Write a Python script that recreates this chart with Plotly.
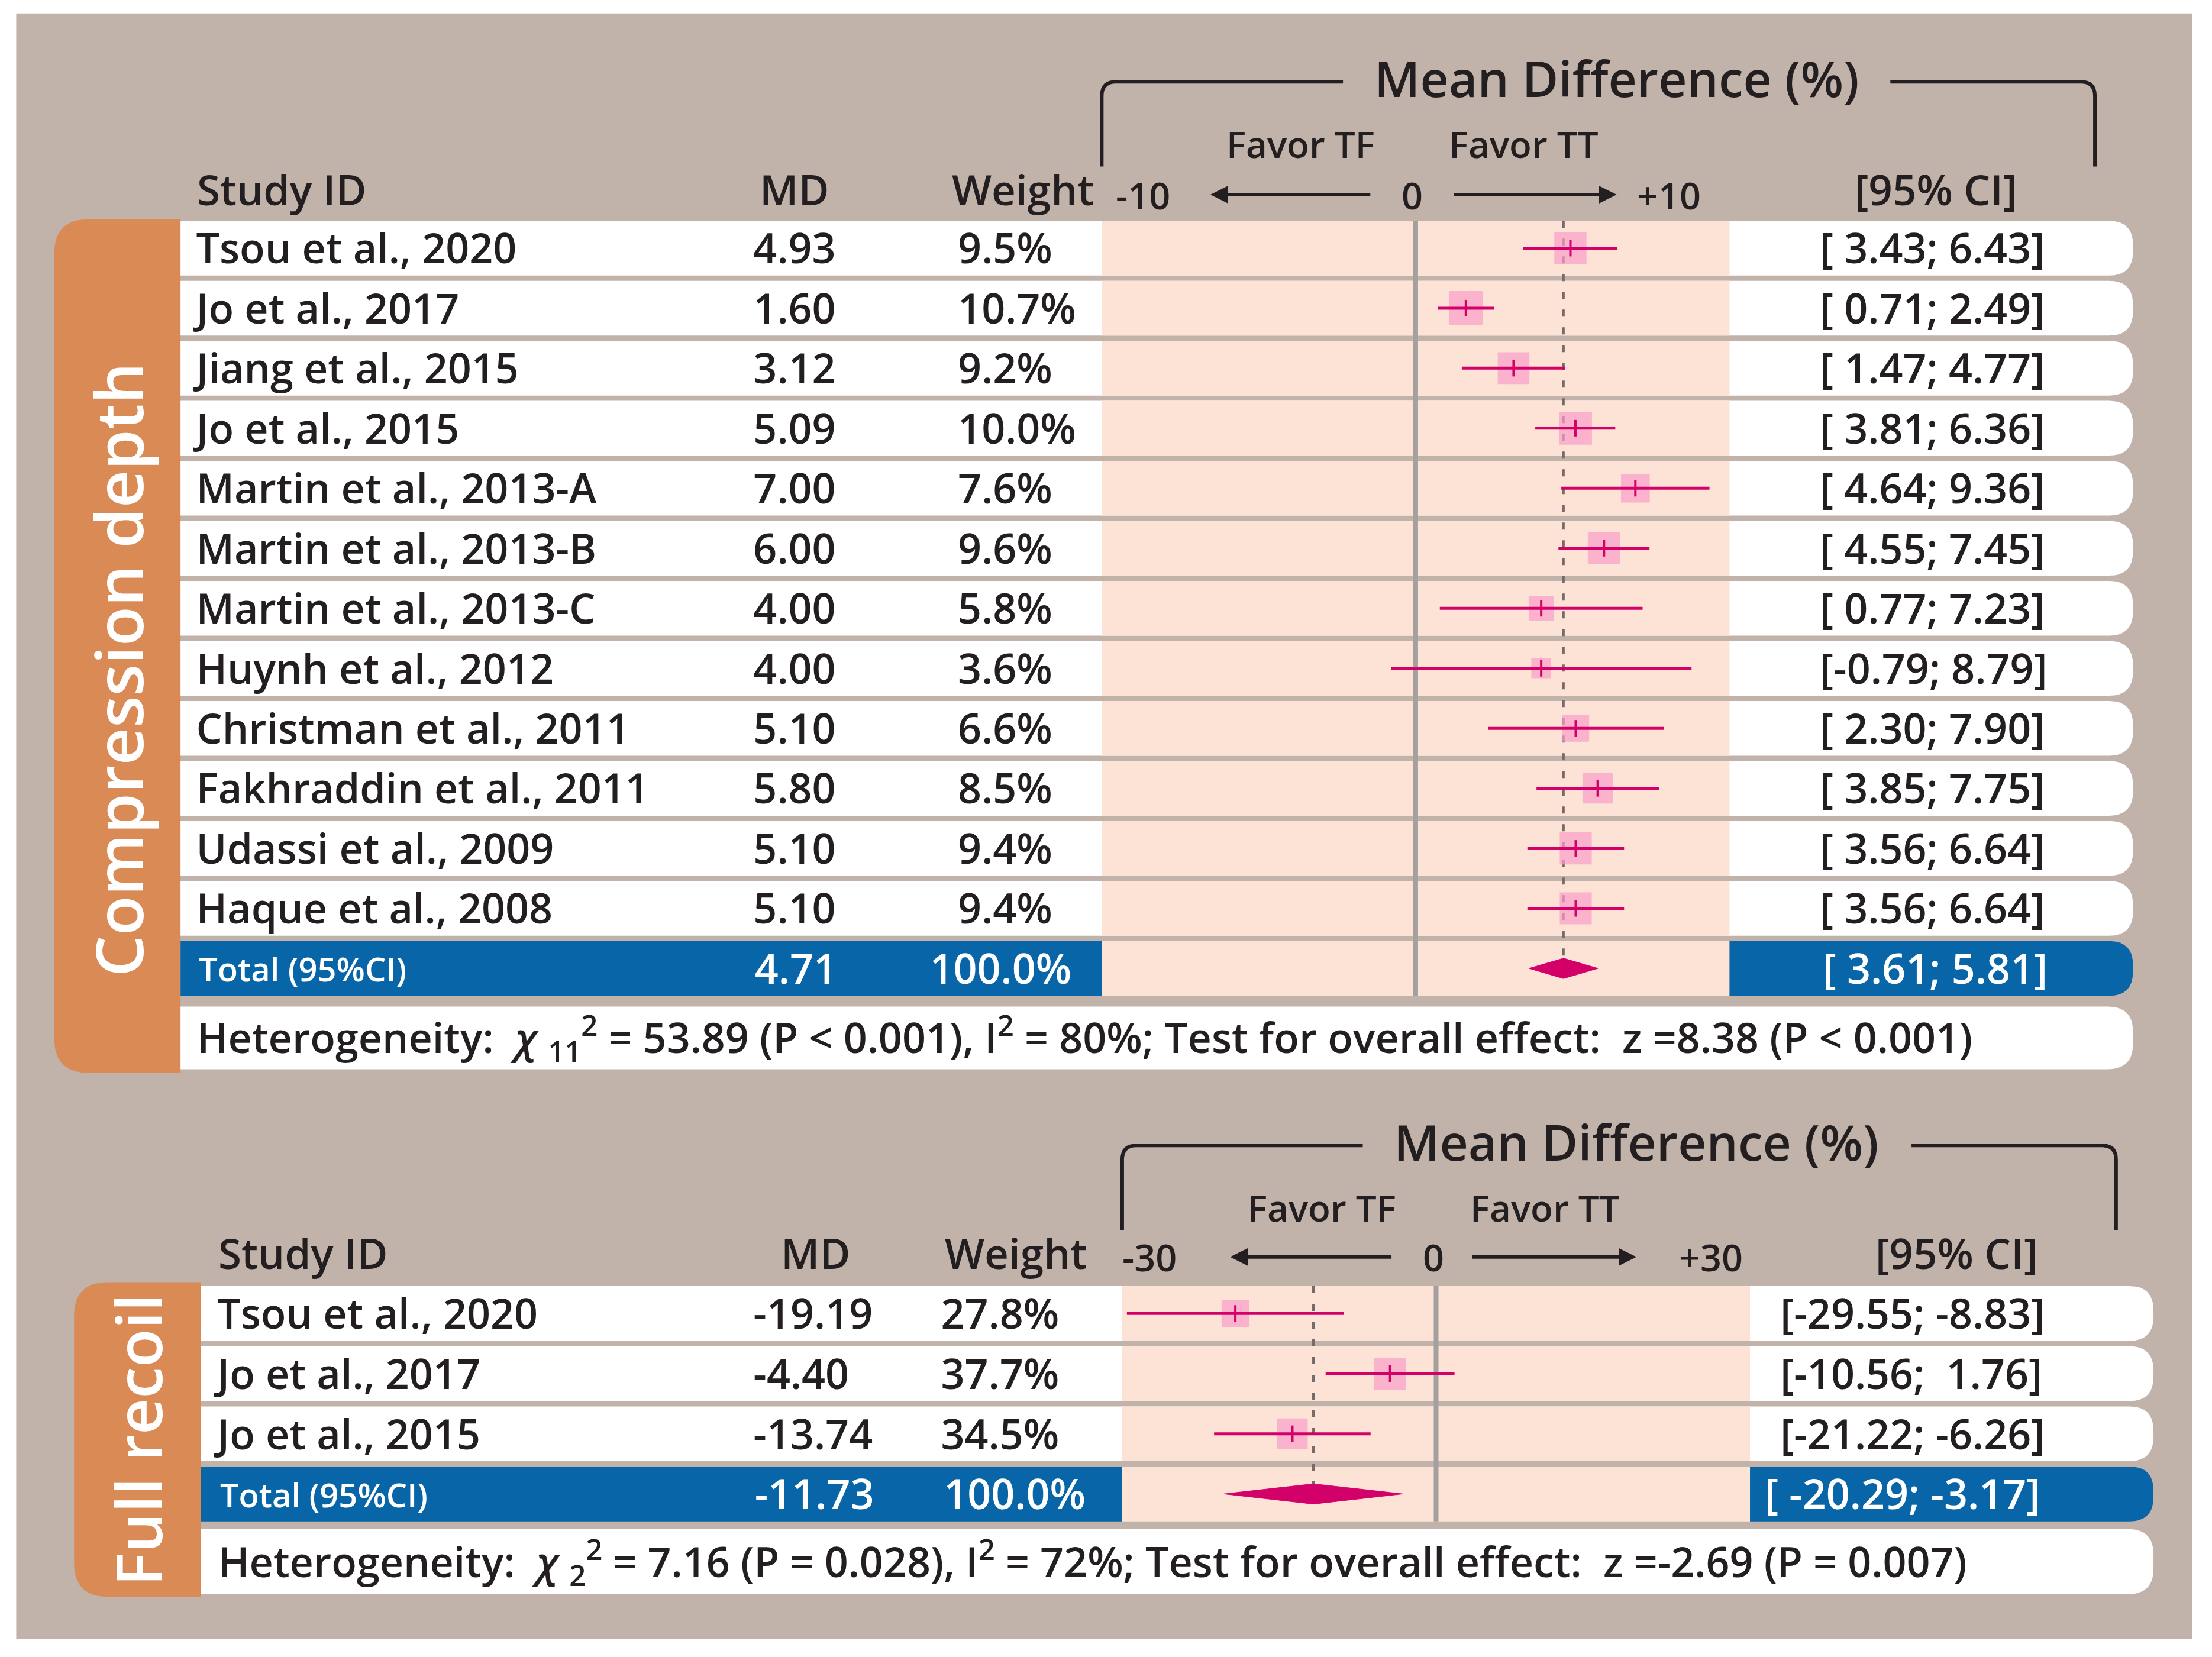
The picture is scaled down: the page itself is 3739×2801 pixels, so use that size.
import numpy as np
import plotly.graph_objects as go

# ---- compression depth panel ----
cd_study = ["Tsou et al., 2020", "Jo et al., 2017", "Jiang et al., 2015", "Jo et al., 2015",
            "Martin et al., 2013-A", "Martin et al., 2013-B", "Martin et al., 2013-C",
            "Huynh et al., 2012", "Christman et al., 2011", "Fakhraddin et al., 2011",
            "Udassi et al., 2009", "Haque et al., 2008"]
cd_md = [4.93, 1.60, 3.12, 5.09, 7.00, 6.00, 4.00, 4.00, 5.10, 5.80, 5.10, 5.10]
cd_lo = [3.43, 0.71, 1.47, 3.81, 4.64, 4.55, 0.77, -0.79, 2.30, 3.85, 3.56, 3.56]
cd_hi = [6.43, 2.49, 4.77, 6.36, 9.36, 7.45, 7.23, 8.79, 7.90, 7.75, 6.64, 6.64]
cd_weight = [9.5, 10.7, 9.2, 10.0, 7.6, 9.6, 5.8, 3.6, 6.6, 8.5, 9.4, 9.4]
cd_total = [4.71, 3.61, 5.81]
cd_ticks = ["-10", "0", "+10"]
cd_het = ["11", "53.89", "&lt; 0.001", "80%", "8.38", "&lt; 0.001"]

# ---- full recoil panel ----
fr_study = ["Tsou et al., 2020", "Jo et al., 2017", "Jo et al., 2015"]
fr_md = [-19.19, -4.40, -13.74]
fr_lo = [-29.55, -10.56, -21.22]
fr_hi = [-8.83, 1.76, -6.26]
fr_weight = [27.8, 37.7, 34.5]
fr_total = [-11.73, -20.29, -3.17]
fr_ticks = ["-30", "0", "+30"]
fr_het = ["2", "7.16", "= 0.028", "72%", "-2.69", "= 0.007"]

W, H = 3739, 2801
S = W / 1568          # pixels per layout unit
BODY = 8              # default page margin around the plot div
OFF = BODY / S
PW, PH = W - 2 * BODY, H - 2 * BODY
XSPAN, YSPAN = PW / S, PH / S

INK = "#231F20"
BROWN = "#C2B3AA"
PEACH = "#FDE3D6"
ORANGE = "#DA8A55"
BLUE = "#0866A8"
MAG = "#D4006A"
PINK = "#FA9DC8"
FONT = "Open Sans"
FW = 540
NB = "\u00a0"
TDY = 3.5             # text traces sit a bit high; nudge down

shapes, annos, traces = [], [], []


def fx(u):
    return (u - OFF) / XSPAN


def rpath(x0, y0, x1, y1, rl=0, rr=0):
    p = f"M{x0+rl},{y0} L{x1-rr},{y0} "
    if rr:
        p += f"Q{x1},{y0} {x1},{y0+rr} "
    p += f"L{x1},{y1-rr} "
    if rr:
        p += f"Q{x1},{y1} {x1-rr},{y1} "
    p += f"L{x0+rl},{y1} "
    if rl:
        p += f"Q{x0},{y1} {x0},{y1-rl} "
    p += f"L{x0},{y0+rl} "
    if rl:
        p += f"Q{x0},{y0} {x0+rl},{y0} "
    return p + "Z"


def box(x0, y0, x1, y1, color, rl=0, rr=0):
    shapes.append(dict(type="path", path=rpath(x0, y0, x1, y1, rl, rr), xref="x", yref="y",
                       fillcolor=color, line=dict(width=0), layer="below"))


def txt(x, y, s, size, color=INK, anchor="left", angle=0):
    annos.append(dict(x=x, y=y, xref="x", yref="y", text=s, showarrow=False, xanchor=anchor,
                      yanchor="middle", textangle=angle,
                      font=dict(family=FONT, size=size, color=color, weight=FW)))


def col(x, ys, vals, size, color=INK):
    traces.append(go.Scatter(x=[x] * len(ys), y=[y + TDY for y in ys], mode="text", text=vals,
                             textposition="middle right", hoverinfo="skip",
                             textfont=dict(family=FONT, size=size, color=color, weight=FW)))


def panel(study, md, lo, hi, wt, total, ticks, het, label, g):
    n = len(study)
    L, F0, F1, R = g["left"], g["f0"], g["f1"], g["right"]
    tops = [g["top"] + g["pitch"] * i for i in range(n + 1)]
    yc = [t + g["rowh"] / 2 for t in tops]
    ax = g["ax"]

    # side band + rows
    box(g["band"], g["btop"], L, g["bbot"], ORANGE, rl=24)
    for t in tops[:n]:
        box(L, t, R, t + g["rowh"], "white", rr=17)
        box(F0, t, F1, t + g["rowh"], PEACH)
    tt = tops[n]
    box(L, tt, F0, tt + g["rowh"], BLUE)
    box(F0, tt, F1, tt + g["rowh"], PEACH)
    box(F1, tt, R, tt + g["rowh"], BLUE, rr=17)
    box(L, g["het"][0], R, g["het"][1], "white", rr=18)

    # reference lines on the effect scale
    shapes.append(dict(type="line", xref=ax, yref="y", x0=0, x1=0, y0=tops[0], y1=tt + g["rowh"],
                       line=dict(color="#A3A09F", width=8), layer="below"))
    shapes.append(dict(type="line", xref=ax, yref="y", x0=total[0], x1=total[0], y0=tops[0],
                       y1=yc[n], line=dict(color="#75696A", width=4, dash="12px,18px"),
                       layer="below"))

    # study marks
    k = g["msize"]
    traces.append(go.Scatter(x=md, y=yc[:n], xaxis=ax, yaxis="y", mode="markers", hoverinfo="skip",
                             marker=dict(symbol="square", color=PINK,
                                         size=[k * np.sqrt(w) * S for w in wt],
                                         line=dict(width=0))))
    cx, cy = [], []
    for a, b, y in zip(lo, hi, yc):
        cx += [a, b, None]
        cy += [y, y, None]
    traces.append(go.Scatter(x=cx, y=cy, xaxis=ax, yaxis="y", mode="lines", hoverinfo="skip",
                             line=dict(color=MAG, width=5)))
    traces.append(go.Scatter(x=md, y=yc[:n], xaxis=ax, yaxis="y", mode="markers", hoverinfo="skip",
                             marker=dict(symbol="line-ns", size=20, line=dict(color=MAG, width=4))))
    hd = 7.2
    traces.append(go.Scatter(x=[total[1], total[0], total[2], total[0], total[1]],
                             y=[yc[n], yc[n] - hd, yc[n], yc[n] + hd, yc[n]],
                             xaxis=ax, yaxis="y", mode="lines", fill="toself", fillcolor=MAG,
                             line=dict(color=MAG, width=1), hoverinfo="skip"))

    # table columns
    col(g["x_name"], yc[:n], study, 70)
    col(g["x_md"], yc[:n], [f"{v:.2f}" for v in md], 70)
    col(g["x_wt"], yc[:n], [f"{w:.1f}%" for w in wt], 70)
    w1, w2 = g["ciw"]
    col(g["x_ci"], yc[:n], [f"[{a:{w1}.2f}; {b:{w2}.2f}]".replace(" ", NB) for a, b in zip(lo, hi)], 70)
    col(g["x_name"] + 2, [yc[n]], ["Total (95%CI)"], 56, "white")
    col(g["x_md"] + 1, [yc[n]], [f"{total[0]:.2f}"], 70, "white")
    col(g["x_wt_tot"], [yc[n]], ["100.0%"], 70, "white")
    col(g["x_ci_tot"], [yc[n]], [f"[ {total[1]:.2f}; {total[2]:.2f}]".replace(" ", NB)], 70, "white")

    hy = (g["het"][0] + g["het"][1]) / 2
    het_txt = (f"Heterogeneity:{NB}{NB}<i>χ</i>{NB}<sub>{het[0]}</sub><sup>2</sup> = {het[1]} (P {het[2]}), "
               f"I<sup>2</sup> = {het[3]}; Test for overall effect:{NB}{NB}z ={het[4]} (P {het[5]})")
    txt(g["x_name"], hy, het_txt, 70)

    # band label
    txt((g["band"] + L) / 2, g["lab_y"], label, g["lab_size"], "white", anchor="center", angle=-90)

    # headers
    hy = g["hdr_y"]
    txt(g["x_name"], hy, "Study ID", 71)
    txt(g["hdr_md"], hy, "MD", 71, anchor="center")
    txt(g["hdr_wt"], hy, "Weight", 71, anchor="center")
    txt(g["hdr_ci"], hy, "[95% CI]", 71, anchor="center")
    by, bv, r = g["brk_y"], g["brk_v"], 10
    shapes.append(dict(type="path", xref="x", yref="y", line=dict(color=INK, width=6),
                       path=f"M{F0},{bv} L{F0},{by+r} Q{F0},{by} {F0+r},{by} L{g['gap'][0]},{by}"))
    shapes.append(dict(type="path", xref="x", yref="y", line=dict(color=INK, width=6),
                       path=f"M{g['gap'][1]},{by} L{g['brk_r']-r},{by} Q{g['brk_r']},{by} "
                            f"{g['brk_r']},{by+r} L{g['brk_r']},{bv}"))
    txt(g["title_x"], by - 3, "Mean Difference (%)", 84, anchor="center")
    txt(g["fav"][0], g["fav_y"], "Favor TF", 62, anchor="center")
    txt(g["fav"][1], g["fav_y"], "Favor TT", 62, anchor="center")
    for xt, s in zip(g["tick_x"], ticks):
        txt(xt, g["tick_y"], s, 63, anchor="center")
    for (x_head, x_tail) in g["arrows"]:
        annos.append(dict(x=x_head, y=g["tick_y"], ax=x_tail, ay=g["tick_y"], xref="x", yref="y",
                          axref="x", ayref="y", text="", showarrow=True, arrowhead=2,
                          arrowsize=1, arrowwidth=6, arrowcolor=INK))


# outer background
box(11.5, 9.5, 1554, 1162, BROWN)

top_geo = dict(left=128, f0=781, f1=1226, right=1512, top=156.5, pitch=42.55, rowh=38.8,
               ax="x2", band=38.5, btop=155.5, bbot=760.5, het=(713.5, 758), msize=7.4,
               x_name=139, x_md=534, x_wt=679, x_ci=1290, ciw=(5, 4), x_wt_tot=659, x_ci_tot=1292,
               lab_y=475, lab_size=110, hdr_y=134, hdr_md=563, hdr_wt=725, hdr_ci=1372,
               brk_y=58, brk_v=118, brk_r=1485, gap=(952, 1340), title_x=1146,
               fav=(922, 1080), fav_y=102, tick_x=(810, 1001, 1183), tick_y=138,
               arrows=((858, 972), (1146, 1030)))
bot_geo = dict(left=142.5, f0=795.5, f1=1240.5, right=1526.5, top=911.7, pitch=42.65, rowh=38.8,
               ax="x3", band=52.5, btop=909, bbot=1132, het=(1084, 1130), msize=3.7,
               x_name=154, x_md=534, x_wt=667, x_ci=1262, ciw=(6, 5), x_wt_tot=669, x_ci_tot=1251,
               lab_y=1021, lab_size=106, hdr_y=888, hdr_md=578, hdr_wt=720, hdr_ci=1387,
               brk_y=812, brk_v=872, brk_r=1500, gap=(966, 1355), title_x=1160,
               fav=(937, 1095), fav_y=856, tick_x=(815, 1016, 1213), tick_y=891,
               arrows=((872, 987), (1160, 1043)))

panel(cd_study, cd_md, cd_lo, cd_hi, cd_weight, cd_total, cd_ticks, cd_het,
      "Compression depth", top_geo)
panel(fr_study, fr_md, fr_lo, fr_hi, fr_weight, fr_total, fr_ticks, fr_het,
      "Full recoil", bot_geo)

fig = go.Figure(data=traces)
fig.update_layout(
    width=PW, height=PH, margin=dict(l=0, r=0, t=0, b=0),
    paper_bgcolor="white", plot_bgcolor="rgba(0,0,0,0)", showlegend=False,
    shapes=shapes, annotations=annos,
    xaxis=dict(range=[OFF, OFF + XSPAN], domain=[0, 1], visible=False),
    yaxis=dict(range=[OFF + YSPAN, OFF], domain=[0, 1], visible=False),
    xaxis2=dict(range=[-10, 10], domain=[fx(781), fx(1226)], anchor="y", visible=False),
    xaxis3=dict(range=[-30, 30], domain=[fx(795.5), fx(1240.5)], anchor="y", visible=False),
)
fig.write_html("out.html")
